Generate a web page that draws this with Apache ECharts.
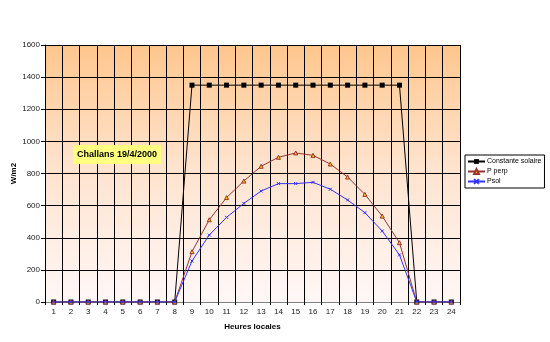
<!DOCTYPE html>
<html><head><meta charset="utf-8">
<script src="https://cdn.jsdelivr.net/npm/echarts@6/dist/echarts.min.js"></script>
<style>html,body{margin:0;padding:0;background:#fff}#c{width:550px;height:342px}</style>
</head><body><div id="c"></div>
<script>
const hours = ['1','2','3','4','5','6','7','8','9','10','11','12','13','14','15','16','17','18','19','20','21','22','23','24'];
const constanteSolaire = [0,0,0,0,0,0,0,0,1350,1350,1350,1350,1350,1350,1350,1350,1350,1350,1350,1350,1350,0,0,0];
const pPerp = [0,0,0,0,0,0,0,0,313,512,650,753,845,901,928,913,859,778,670,535,369,0,0,0];
const pSol = [0,0,0,0,0,0,0,0,255,417,527,614,691,737,737,745,702,635,556,442,293,0,0,0];
const yMax = 1600, yStep = 200;

const chart = echarts.init(document.getElementById('c'), null, {renderer:'canvas'});
const font = 'Liberation Sans, Arial, sans-serif';
chart.setOption({
  animation:false,
  backgroundColor:'#fff',
  title:{text:'Challans 19/4/2000', left:73, top:145, backgroundColor:'#FFFF80', padding:[5,4,5,4],
    textStyle:{fontFamily:font, fontSize:9, fontWeight:'bold', color:'#000'}},
  legend:{orient:'vertical', left:465, top:155, padding:[3,3,3,2], itemGap:3,
    itemWidth:17, itemHeight:6, borderColor:'#000', borderWidth:1, backgroundColor:'#fff',
    textStyle:{fontFamily:font, fontSize:7, color:'#000', padding:[0,0,0,-3]},
    data:['Constante solaire','P perp','Psol']},
  grid:{left:45, right:90, top:45, bottom:40, show:true, borderWidth:0, containLabel:false, outerBoundsMode:'none',
    backgroundColor:{type:'linear', x:0, y:0, x2:0, y2:1, colorStops:[
      {offset:0, color:'#FFC68D'},{offset:0.45, color:'#FFE2CB'},{offset:1, color:'#FFF7F7'}]}},
  xAxis:{type:'category', data:hours, boundaryGap:true, name:'Heures locales', nameLocation:'middle', nameGap:21,
    nameTextStyle:{fontFamily:font, fontSize:8, fontWeight:'bold', color:'#000'},
    axisLine:{lineStyle:{color:'#808080', width:1}}, axisTick:{show:true, length:3, lineStyle:{color:'#000'}},
    axisLabel:{fontFamily:font, fontSize:8, color:'#222', margin:6},
    splitLine:{show:true, lineStyle:{color:'#000', width:1}}},
  yAxis:{type:'value', min:0, max:yMax, interval:yStep, name:'W/m2', nameLocation:'middle', nameGap:27, nameRotate:90,
    nameMoveOverlap:false,
    nameTextStyle:{fontFamily:font, fontSize:8, fontWeight:'bold', color:'#000'},
    axisLine:{show:true, lineStyle:{color:'#000'}}, axisTick:{show:true, length:4, lineStyle:{color:'#000'}},
    axisLabel:{fontFamily:font, fontSize:8, color:'#222', margin:5, formatter:(v)=>String(v)},
    splitLine:{show:true, lineStyle:{color:'#000', width:1}}},
  series:[
    {name:'Constante solaire', type:'line', data:constanteSolaire, symbol:'rect', symbolSize:5,
      lineStyle:{color:'#000', width:1}, itemStyle:{color:'#000'}, z:2},
    {name:'P perp', type:'line', data:pPerp, symbol:'triangle', symbolSize:4, showSymbol:true,
      lineStyle:{color:'#993333', width:1}, itemStyle:{color:'#FFCC00', borderColor:'#993333', borderWidth:1}, z:3},
    {name:'Psol', type:'line', data:pSol, symbol:'path://M0,0L10,10M10,0L0,10', symbolSize:3,
      lineStyle:{color:'#3333FF', width:1}, itemStyle:{color:'#3333FF', borderColor:'#3333FF', borderWidth:1}, z:4}
  ]
});
</script></body></html>
